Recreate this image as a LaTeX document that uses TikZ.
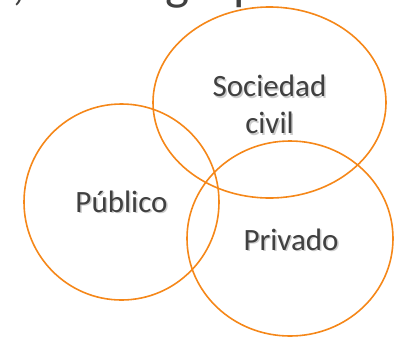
\documentclass[tikz,border=0pt]{standalone}
\usepackage{fontspec}
\setmainfont{Carlito}
\definecolor{vennorange}{RGB}{245,135,25}
\definecolor{txtgray}{RGB}{64,64,64}

\begin{document}
\begin{tikzpicture}[x=1pt, y=-1pt,
        set/.style={draw=vennorange, line width=1.6pt},
        lbl/.style={text=txtgray, font=\fontsize{31}{37}\selectfont, align=center, inner sep=0pt},
        shade/.style={lbl, text=black!20}]
        \useasboundingbox (0,0) rectangle (396,338);
        \clip (0,0) rectangle (396,338);

        % title line, cut off at the top
        \node[lbl, anchor=base west, font=\fontsize{51}{60}\selectfont] (title) at (12,-1) {, todos grupos};
        \node[lbl, anchor=base east, font=\fontsize{42}{50}\selectfont] (dot) at (3,125) {.};

        % the three sets
        \draw[set] (269.5,102.5) ellipse [x radius=116.5, y radius=95.5];
        \draw[set] (121.5,202) ellipse [x radius=97.5, y radius=98];
        \draw[set] (290,238.5) ellipse [x radius=103, y radius=97.5];

        % labels with a soft shadow
        \node[shade] at (271,106) {Sociedad\\civil};
        \node[lbl] (soc) at (269.5,104.5) {Sociedad\\civil};
        \node[shade, anchor=base] at (123,213.5) {Público};
        \node[lbl, anchor=base] (pub) at (121.5,212) {Público};
        \node[shade, anchor=base] at (292.5,251.5) {Privado};
        \node[lbl, anchor=base] (priv) at (291,250) {Privado};
\end{tikzpicture}
\end{document}
